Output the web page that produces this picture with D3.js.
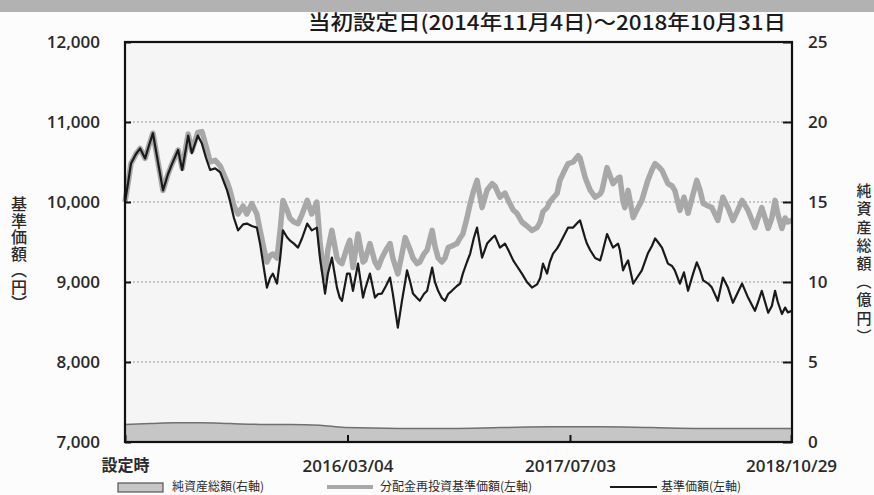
<!DOCTYPE html>
<html><head><meta charset="utf-8">
<script src="https://cdn.jsdelivr.net/npm/d3@7"></script>
<style>body{margin:0;background:#fff;} svg{display:block;}</style>
</head><body><svg id="c" width="874" height="495"></svg>
<script>
// ---- data ----
const startDate = "2014-11-04";
const endDate = "2018-10-31";
// days since inception
const dayOffsets = [0,7,13,24,33,44,52,61,72,83,94,103,116,125,138,146,159,168,177,186,197,208,223,229,238,247,258,266,277,288,295,304,310,317,323,332,339,345,354,360,369,378,387,398,408,419,426,433,437,443,452,463,469,474,485,491,498,509,520,524,535,546,553,561,570,579,585,596,605,612,616,623,629,638,644,653,660,671,677,684,692,699,706,714,725,732,738,747,754,762,769,780,791,802,808,819,830,839,848,856,867,878,889,900,907,913,922,928,935,944,950,959,968,979,990,994,1005,1009,1016,1027,1038,1042,1053,1066,1077,1081,1088,1092,1099,1110,1118,1129,1142,1151,1158,1164,1173,1186,1195,1201,1212,1221,1230,1241,1249,1256,1263,1274,1282,1295,1306,1317,1328,1337,1348,1361,1376,1383,1391,1405,1413,1420,1426,1435,1442,1448,1457];
// 基準価額 (left axis)
const navValues = [10000,10250,10480,10600,10670,10545,10700,10860,10500,10145,10350,10480,10650,10400,10830,10610,10830,10730,10550,10400,10420,10370,10145,10020,9800,9645,9720,9730,9700,9680,9480,9150,8930,9050,9105,8980,9300,9645,9560,9520,9480,9430,9550,9730,9645,9680,9300,9020,8855,9100,9305,8930,8805,8765,9105,9105,8890,9230,8805,8900,9105,8805,8850,8855,8950,9055,8855,8430,8765,9000,9145,9000,8855,8800,8765,8850,8890,9180,9000,8890,8800,8765,8850,8890,8950,8980,9105,9250,9355,9550,9680,9305,9480,9550,9580,9430,9480,9380,9270,9200,9105,9000,8930,8970,9050,9230,9105,9250,9355,9420,9480,9580,9680,9680,9750,9770,9550,9480,9400,9300,9270,9350,9600,9430,9480,9400,9145,9200,9270,8980,9050,9145,9355,9450,9545,9500,9430,9230,9200,9145,8980,9120,8890,9105,9245,9150,9020,8980,8930,8765,9055,8930,8740,8850,8980,8805,8640,8750,8890,8615,8700,8890,8750,8600,8680,8620,8640];
// 分配金再投資基準価額 (left axis)
const reinvestValues = [10000,10250,10480,10600,10670,10545,10700,10860,10500,10145,10350,10480,10650,10420,10850,10640,10870,10880,10700,10500,10520,10450,10250,10150,9950,9850,9950,9850,9980,9850,9650,9400,9250,9330,9350,9300,9650,10020,9900,9800,9750,9730,9850,10020,9850,10000,9500,9150,9050,9400,9645,9300,9250,9230,9430,9520,9180,9600,9250,9270,9480,9250,9180,9300,9400,9480,9300,9100,9350,9555,9500,9400,9300,9230,9250,9350,9400,9645,9450,9300,9250,9300,9430,9450,9480,9550,9600,9800,9980,10150,10270,9930,10150,10230,10200,10060,10110,10000,9900,9860,9750,9700,9645,9680,9750,9880,9930,10000,10050,10110,10270,10380,10480,10500,10580,10550,10310,10250,10150,10060,10100,10145,10430,10230,10300,10310,10000,9930,10145,9805,9900,10020,10270,10400,10480,10450,10395,10230,10200,10145,9895,10060,9860,10100,10270,10150,9980,9950,9930,9770,10060,9930,9770,9880,10020,9895,9680,9800,9930,9670,9800,10020,9850,9670,9800,9750,9770];
// 純資産総額 (億円, right axis)
const assetDayOffsets = [0,55,110,165,230,295,360,426,480,600,710,820,930,1040,1150,1260,1370,1457];
const assetValues = [1.1,1.15,1.2,1.2,1.15,1.1,1.1,1.05,0.9,0.85,0.85,0.9,0.95,0.95,0.9,0.85,0.85,0.85];

const leftTicks = [7000,8000,9000,10000,11000,12000];
const rightTicks = [0,5,10,15,20,25];
const xTickDates = ["2014-11-04","2016-03-04","2017-07-03","2018-10-29"];
const xTickLabels = ["設定時","2016/03/04","2017/07/03","2018/10/29"];
const legendLabels = ["純資産総額(右軸)","分配金再投資基準価額(左軸)","基準価額(左軸)"];
const titleText = "当初設定日(2014年11月4日)～2018年10月31日";
const leftAxisTitle = "基準価額（円）";
const rightAxisTitle = "純資産総額（億円）";

// ---- drawing ----
const svg = d3.select("#c");
const parse = d3.utcParse("%Y-%m-%d");
const t0 = parse(startDate);
const L = 125, R = 792, T = 42, B = 442;
const x = d3.scaleUtc().domain([t0, parse(endDate)]).range([L, R]);
const yL = d3.scaleLinear().domain([7000, 12000]).range([B, T]);
const yR = d3.scaleLinear().domain([0, 25]).range([B, T]);
const dt = d => d3.utcDay.offset(t0, d);
const numFont = "'Open Sans', 'DejaVu Sans', sans-serif";
const jpFont = "'Noto Sans CJK JP', sans-serif";

svg.append("rect").attr("x",0).attr("y",0).attr("width",874).attr("height",495).attr("fill","#fcfcfc");
svg.append("rect").attr("x",0).attr("y",0).attr("width",874).attr("height",12).attr("fill","#b2b2b2");

svg.append("rect").attr("x",L).attr("y",T).attr("width",R-L).attr("height",B-T).attr("fill","#f5f5f5");

// grid
svg.append("g").selectAll("line").data(leftTicks.filter(v => v > 7000 && v < 12000)).join("line")
  .attr("x1", L).attr("x2", R).attr("y1", d => yL(d)).attr("y2", d => yL(d))
  .attr("stroke", "#9a9a9a").attr("stroke-width", 1.2).attr("stroke-dasharray", "2,2");

// net assets area
const assetData = assetDayOffsets.map((d,i) => ({date: dt(d), v: assetValues[i]}));
svg.append("path").datum(assetData)
  .attr("d", d3.area().x(d => x(d.date)).y0(yR(0)).y1(d => yR(d.v)).curve(d3.curveMonotoneX))
  .attr("fill", "#c6c6c6");
svg.append("path").datum(assetData)
  .attr("d", d3.line().x(d => x(d.date)).y(d => yR(d.v)).curve(d3.curveMonotoneX))
  .attr("fill", "none").attr("stroke", "#707070").attr("stroke-width", 1.5);

// lines
const reinvest = dayOffsets.map((d,i) => ({date: dt(d), v: reinvestValues[i]}));
const nav = dayOffsets.map((d,i) => ({date: dt(d), v: navValues[i]}));
const lineGen = d3.line().x(d => x(d.date)).y(d => yL(d.v));
svg.append("path").datum(reinvest).attr("d", lineGen)
  .attr("fill","none").attr("stroke","#a8a8a8").attr("stroke-width",5.5).attr("stroke-linejoin","round");
svg.append("path").datum(nav).attr("d", lineGen)
  .attr("fill","none").attr("stroke","#1a1a1a").attr("stroke-width",2.2).attr("stroke-linejoin","round");

// frame
svg.append("rect").attr("x",L).attr("y",T).attr("width",R-L).attr("height",B-T)
  .attr("fill","none").attr("stroke","#111").attr("stroke-width",2.2);

// axes
const axL = svg.append("g").attr("transform", `translate(${L},0)`)
  .call(d3.axisLeft(yL).tickValues(leftTicks).tickSize(-6).tickPadding(25).tickFormat(d3.format(",")));
const axR = svg.append("g").attr("transform", `translate(${R},0)`)
  .call(d3.axisRight(yR).tickValues(rightTicks).tickSize(-9).tickPadding(16).tickFormat(d3.format("d")));
const axB = svg.append("g").attr("transform", `translate(0,${B})`)
  .call(d3.axisBottom(x).tickValues(xTickDates.map(parse)).tickSize(-7).tickPadding(18)
    .tickFormat((d,i) => xTickLabels[i]));
[axL, axR, axB].forEach(g => {
  g.select(".domain").remove();
  g.selectAll(".tick line").attr("stroke","#111").attr("stroke-width",2);
  g.selectAll("text").attr("font-family", numFont).attr("font-size", 17).attr("fill","#2a2a2a").attr("font-weight", 600);
});
axB.selectAll("text").filter((d,i) => i === 0).attr("font-family", jpFont).attr("font-size", 16);

// title
svg.append("text").attr("x", 786).attr("y", 30).attr("text-anchor","end")
  .attr("font-family", jpFont).attr("font-size", 20).attr("font-weight", 500).attr("fill","#1a1a1a")
  .attr("textLength", 478).attr("lengthAdjust","spacingAndGlyphs")
  .text(titleText);

// axis titles (vertical)
svg.append("text").attr("x", 19).attr("y", 196)
  .attr("style","writing-mode: vertical-rl;")
  .attr("font-family", jpFont).attr("font-size", 16).attr("letter-spacing", 0.5).attr("fill","#2a2a2a").attr("font-weight",500)
  .text(leftAxisTitle);
svg.append("text").attr("x", 864).attr("y", 183)
  .attr("style","writing-mode: vertical-rl;")
  .attr("font-family", jpFont).attr("font-size", 15).attr("letter-spacing", 3.2).attr("fill","#2a2a2a").attr("font-weight",500)
  .text(rightAxisTitle);

// legend
const lg = svg.append("g").attr("font-family", jpFont).attr("font-size", 12).attr("fill","#2a2a2a");
lg.append("rect").attr("x",118).attr("y",483).attr("width",45).attr("height",9).attr("fill","#c6c6c6").attr("stroke","#555").attr("stroke-width",1.2);
lg.append("text").attr("x",172).attr("y",491).text(legendLabels[0]);
lg.append("line").attr("x1",327).attr("x2",373).attr("y1",487).attr("y2",487).attr("stroke","#a8a8a8").attr("stroke-width",4);
lg.append("text").attr("x",380).attr("y",491).text(legendLabels[1]);
lg.append("line").attr("x1",610).attr("x2",657).attr("y1",487).attr("y2",487).attr("stroke","#1a1a1a").attr("stroke-width",2);
lg.append("text").attr("x",661).attr("y",491).text(legendLabels[2]);
</script></body></html>
